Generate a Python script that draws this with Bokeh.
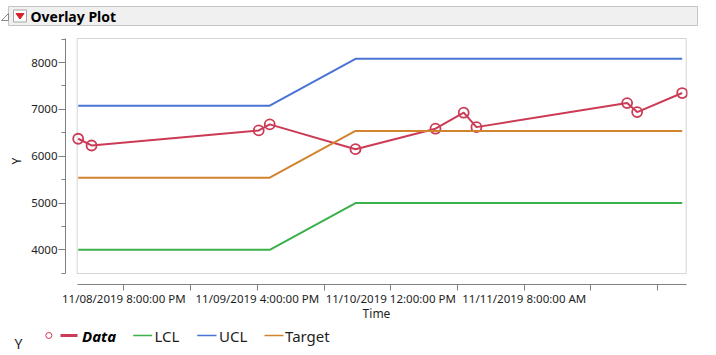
import pandas as pd
from bokeh.plotting import figure
from bokeh.layouts import column
from bokeh.models import Range1d, FixedTicker, BoxAnnotation
from bokeh.core.properties import value
from bokeh.embed import file_html
from bokeh.resources import INLINE

# ---------------- data ----------------
times = ["2019-11-08 13:10", "2019-11-08 15:10", "2019-11-09 16:13", "2019-11-09 17:52",
         "2019-11-10 06:43", "2019-11-10 18:42", "2019-11-10 22:56", "2019-11-11 00:50",
         "2019-11-11 23:25", "2019-11-12 00:55", "2019-11-12 07:40"]
data_values = [6373, 6229, 6550, 6679, 6150, 6587, 6929, 6621, 7135, 6942, 7349]
lcl_values = [4000, 4000, 4000, 4000, 5000, 5000, 5000, 5000, 5000, 5000, 5000]
ucl_values = [7080, 7080, 7080, 7080, 8080, 8080, 8080, 8080, 8080, 8080, 8080]
target_values = [5540, 5540, 5540, 5540, 6540, 6540, 6540, 6540, 6540, 6540, 6540]

x_tick_labels = ["11/08/2019 8:00:00 PM", "11/09/2019 4:00:00 PM",
                 "11/10/2019 12:00:00 PM", "11/11/2019 8:00:00 AM"]
x_minor_tick_times = ["11/09/2019 6:00:00 AM", "11/10/2019 2:00:00 AM",
                      "11/10/2019 10:00:00 PM", "11/11/2019 6:00:00 PM",
                      "11/12/2019 4:00:00 AM"]
y_ticks = [4000, 5000, 6000, 7000, 8000]
y_minor_ticks = [3500, 4500, 5500, 6500, 7500, 8500]
series_names = ["Data", "LCL", "UCL", "Target"]
colors = ["#cc3b56", "#3cb04a", "#4a74d4", "#d2832e"]

# ---------------- helpers ----------------
T0 = pd.Timestamp("2019-11-08 00:00")
FMT = "%m/%d/%Y %I:%M:%S %p"


def hours(ts):
    return (pd.Timestamp(ts) - T0).total_seconds() / 3600.0


xh = [hours(t) for t in times]
xt = [int(round(hours(pd.to_datetime(s, format=FMT)))) for s in x_tick_labels]
xm = [int(round(hours(pd.to_datetime(s, format=FMT)))) for s in x_minor_tick_times]

FONT = value("Noto Sans")
TXT = "#1e1e1e"

# inner (data) box
X0, X1 = xh[0] - 0.15, xh[-1] + 0.6
Y0, Y1 = 3493, 8514
PXH = 6.675      # px per hour
PXV = 0.0467     # px per unit
xo0 = X0 - 11.7 / PXH
xo1 = X1 + 1.3 / PXH
yo0 = Y0 - 10.9 / PXV
yo1 = Y1 + 1.0 / PXV

HDR_H = 30
TOP = 7
FRAME_H = 247
BOTTOM = 42
LEG_H = 355 - HDR_H - TOP - FRAME_H - BOTTOM

# ---------------- header ----------------
hdr = figure(width=716, height=HDR_H, x_range=Range1d(0, 716), y_range=Range1d(HDR_H, 0),
             output_backend="svg", toolbar_location=None, min_border=0,
             x_axis_location=None, y_axis_location=None)
hdr.frame_align = False
hdr.grid.visible = False
hdr.outline_line_color = None
hdr.quad(left=[8], right=[697], top=[6], bottom=[25], fill_color="#f0f0f0", line_color="#c4c4c4")
hdr.patch([1, 8, 8], [20, 20, 13], fill_color="white", line_color="#8a8a8a", line_width=1)
hdr.quad(left=[13], right=[26], top=[9.5], bottom=[21.5], fill_color="#fbfbfb", line_color="#a8a8a8")
hdr.patch([15.5, 23.5, 19.5], [13, 13, 18.5], fill_color="#d8202a", line_color="#d8202a")
hdr.text(x=[30], y=[15.5], text=["Overlay Plot"], text_font=FONT, text_font_style="bold",
         text_font_size="14px", text_baseline="middle", text_color="black")

# ---------------- main plot ----------------
p = figure(frame_width=622, frame_height=FRAME_H, x_range=Range1d(xo0, xo1), y_range=Range1d(yo0, yo1),
           output_backend="svg", toolbar_location=None,
           min_border_left=65, min_border_right=29, min_border_top=TOP, min_border_bottom=BOTTOM)
p.frame_align = False
p.grid.visible = False
p.outline_line_color = None

p.add_layout(BoxAnnotation(left=X0, right=X1, bottom=Y0, top=Y1, fill_alpha=0,
                           line_color="#747474", line_width=1))

p.line(xh, data_values, line_color=colors[0], line_width=2)
p.scatter(xh, data_values, marker="circle", size=10, fill_color=None,
          line_color=colors[0], line_width=1.8)
p.line(xh, lcl_values, line_color=colors[1], line_width=2)
p.line(xh, ucl_values, line_color=colors[2], line_width=2)
p.line(xh, target_values, line_color=colors[3], line_width=2)

xa = p.xaxis[0]
xa.ticker = FixedTicker(ticks=xt, minor_ticks=xm)
xa.major_label_overrides = {t: s for t, s in zip(xt, x_tick_labels)}
xa.bounds = (X0, X1)
xa.axis_label = "Time"
xa.major_tick_out = 6
xa.major_tick_in = 0
xa.minor_tick_out = 6
xa.minor_tick_in = 0
xa.major_label_standoff = 0
xa.axis_label_standoff = -4

ya = p.yaxis[0]
ya.ticker = FixedTicker(ticks=y_ticks, minor_ticks=y_minor_ticks)
ya.bounds = (Y0, Y1)
ya.axis_label = "Y"
ya.major_tick_out = 7
ya.major_tick_in = 0
ya.minor_tick_out = 4
ya.minor_tick_in = 0
ya.major_label_standoff = 1
ya.axis_label_standoff = 3

for ax in (xa, ya):
    ax.axis_line_color = "#808080"
    ax.major_tick_line_color = "#808080"
    ax.minor_tick_line_color = "#808080"
    ax.major_label_text_font = "Noto Sans"
    ax.major_label_text_color = TXT
    ax.axis_label_text_font = "Noto Sans"
    ax.axis_label_text_font_style = "normal"
    ax.axis_label_text_font_size = "12px"
    ax.axis_label_text_color = TXT
xa.major_label_text_font_size = "11.5px"
ya.major_label_text_font_size = "11.5px"

# ---------------- legend ----------------
leg = figure(width=716, height=LEG_H, x_range=Range1d(0, 716), y_range=Range1d(LEG_H, 0),
             output_backend="svg", toolbar_location=None, min_border=0,
             x_axis_location=None, y_axis_location=None)
leg.frame_align = False
leg.grid.visible = False
leg.outline_line_color = None
LY = 335 - (355 - LEG_H)
leg.text(x=[18], y=[LY + 8], text=["Y"], text_font=FONT, text_font_size="14px",
         text_baseline="middle", text_align="center", text_color=TXT)
leg.scatter([48.3], [LY], marker="circle", size=6, fill_color=None, line_color=colors[0], line_width=1)
leg.segment(x0=[60], y0=[LY], x1=[77], y1=[LY], line_color=colors[0], line_width=3)
leg.text(x=[81.5], y=[LY], text=[series_names[0]], text_font=FONT, text_font_style="bold italic",
         text_font_size="15px", text_baseline="middle", text_color="black")
seg_x = [(132.7, 151.7, 154), (196.7, 216, 218.5), (264, 283, 284.5)]
for (a, b, tx), name, c in zip(seg_x, series_names[1:], colors[1:]):
    leg.segment(x0=[a], y0=[LY], x1=[b], y1=[LY], line_color=c, line_width=1.5)
    leg.text(x=[tx], y=[LY], text=[name], text_font=FONT, text_font_size="15px",
             text_baseline="middle", text_color=TXT)

layout = column(hdr, p, leg)
open("out.html", "w").write(file_html(layout, INLINE))
